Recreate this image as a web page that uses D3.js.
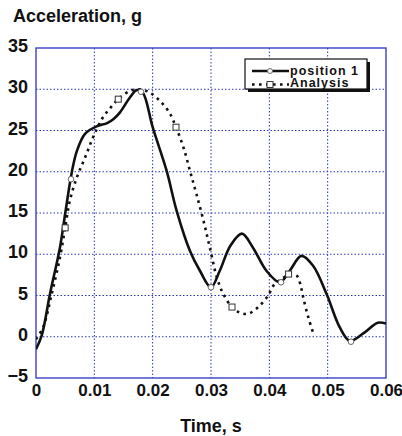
<!DOCTYPE html>
<html><head><meta charset="utf-8">
<script src="https://cdn.jsdelivr.net/npm/d3@7"></script>
<style>body{margin:0;background:#fff}svg{display:block}text{font-family:"Liberation Sans",Arial,sans-serif;font-weight:bold;fill:#111}</style>
</head><body>
<script>
const xTicks = [0, 0.01, 0.02, 0.03, 0.04, 0.05, 0.06];
const xTickLabels = ["0", "0.01", "0.02", "0.03", "0.04", "0.05", "0.06"];
const yTicks = [-5, 0, 5, 10, 15, 20, 25, 30, 35];
const seriesNames = ["position 1", "Analysis"];

const timeP1 = [0, 0.001, 0.0024, 0.0041, 0.005, 0.0061, 0.007, 0.0084, 0.0104, 0.0122, 0.0133, 0.0144, 0.0161, 0.0173, 0.0183, 0.020, 0.0224, 0.0241, 0.0264, 0.0281, 0.030, 0.0315, 0.0333, 0.0353, 0.0372, 0.0395, 0.0418, 0.0435, 0.0455, 0.0475, 0.0498, 0.0521, 0.0538, 0.0561, 0.0586, 0.06];
const accP1 = [-1.5, 0.2, 5.2, 10.8, 14.9, 19.8, 22.5, 24.6, 25.5, 25.9, 26.4, 27.2, 29.0, 29.9, 29.6, 25.4, 20.1, 15.3, 10.4, 8.0, 6.0, 8.0, 11.0, 12.5, 10.8, 8.0, 6.6, 8.0, 9.8, 8.6, 5.2, 1.1, -0.5, 0.4, 1.7, 1.6];

const timeAn = [0, 0.0012, 0.0027, 0.0041, 0.005, 0.0058, 0.007, 0.0084, 0.0098, 0.0113, 0.0127, 0.0141, 0.0161, 0.0178, 0.0195, 0.0215, 0.023, 0.024, 0.0253, 0.0264, 0.0275, 0.0287, 0.0298, 0.031, 0.0321, 0.0336, 0.035, 0.0364, 0.0381, 0.0398, 0.0407, 0.0421, 0.0433, 0.0447, 0.0453, 0.0458, 0.0467, 0.0476];
const accAn = [-0.3, 1.1, 5.2, 9.6, 13.2, 16.5, 19.3, 21.7, 24.2, 26.4, 27.7, 28.8, 29.8, 30.0, 29.6, 28.4, 27.0, 25.4, 22.9, 20.1, 17.3, 14.1, 10.8, 7.2, 5.2, 3.6, 2.9, 2.8, 3.6, 5.0, 6.2, 7.0, 7.5, 7.4, 6.4, 4.8, 2.3, 0.3];

const markTimeP1 = [0.006, 0.018, 0.030, 0.042, 0.054];
const markAccP1 = [19.1, 29.7, 6.0, 6.6, -0.6];
const markTimeAn = [0.005, 0.0141, 0.024, 0.0336, 0.0433];
const markAccAn = [13.2, 28.8, 25.4, 3.6, 7.6];

const W = 402, H = 436;
const m = {left: 36, right: 16, top: 48, bottom: 58};
const svg = d3.select("body").append("svg").attr("width", W).attr("height", H);
const x = d3.scaleLinear().domain([0, 0.06]).range([m.left, W - m.right]);
const y = d3.scaleLinear().domain([-5, 35]).range([H - m.bottom, m.top]);
const blue = "#2a33c0";

// grid
const g = svg.append("g");
g.selectAll("line.vx").data(xTicks.slice(1, -1)).join("line")
  .attr("x1", d => x(d)).attr("x2", d => x(d)).attr("y1", y(35)).attr("y2", y(-5))
  .attr("stroke", blue).attr("stroke-width", 1).attr("stroke-dasharray", "1.5,2");
g.selectAll("line.hy").data(yTicks.slice(1, -1)).join("line")
  .attr("x1", x(0)).attr("x2", x(0.06)).attr("y1", d => y(d)).attr("y2", d => y(d))
  .attr("stroke", blue).attr("stroke-width", 1).attr("stroke-dasharray", "1.5,2");
svg.append("rect").attr("x", x(0)).attr("y", y(35)).attr("width", x(0.06) - x(0)).attr("height", y(-5) - y(35))
  .attr("fill", "none").attr("stroke", blue).attr("stroke-width", 1.3);

// axes
const xAxis = d3.axisBottom(x).tickValues(xTicks).tickFormat((d, i) => xTickLabels[i]).tickSize(0).tickPadding(6);
const ax = svg.append("g").attr("transform", `translate(0,${y(-5)})`).call(xAxis);
ax.select(".domain").remove();
ax.selectAll("text").style("font-size", "17px").attr("fill", "#111");
const yAxis = d3.axisLeft(y).tickValues(yTicks).tickSize(0).tickPadding(8);
const ay = svg.append("g").attr("transform", `translate(${x(0)},0)`).call(yAxis);
ay.select(".domain").remove();
ay.selectAll("text").style("font-size", "18px").attr("fill", "#111").attr("dy", "0.2em");

svg.append("text").attr("x", 13).attr("y", 22).style("font-size", "18px").text("Acceleration, g");
svg.append("text").attr("x", 211).attr("y", 432).attr("text-anchor", "middle").style("font-size", "18px").text("Time, s");

// lines
svg.append("clipPath").attr("id", "c").append("rect")
  .attr("x", x(0)).attr("y", y(35)).attr("width", x(0.06) - x(0)).attr("height", y(-5) - y(35));
const line = d3.line().x(d => x(d[0])).y(d => y(d[1])).curve(d3.curveCatmullRom.alpha(0.5));
const pl = svg.append("g").attr("clip-path", "url(#c)");
pl.append("path").datum(d3.zip(timeAn, accAn)).attr("d", line)
  .attr("fill", "none").attr("stroke", "#111").attr("stroke-width", 2.6).attr("stroke-dasharray", "2.6,4.4");
pl.append("path").datum(d3.zip(timeP1, accP1)).attr("d", line)
  .attr("fill", "none").attr("stroke", "#111").attr("stroke-width", 2.6);
pl.selectAll("circle.m").data(d3.zip(markTimeP1, markAccP1)).join("circle")
  .attr("cx", d => x(d[0])).attr("cy", d => y(d[1])).attr("r", 2.8)
  .attr("fill", "#fff").attr("stroke", "#666").attr("stroke-width", 1);
pl.selectAll("rect.m").data(d3.zip(markTimeAn, markAccAn)).join("rect")
  .attr("x", d => x(d[0]) - 3).attr("y", d => y(d[1]) - 3).attr("width", 6).attr("height", 6)
  .attr("fill", "#fff").attr("stroke", "#333").attr("stroke-width", 1);

// legend
const lg = svg.append("g");
lg.append("rect").attr("x", 248).attr("y", 62).attr("width", 122).attr("height", 30).attr("fill", "#111");
lg.append("rect").attr("x", 245).attr("y", 59).attr("width", 122).attr("height", 30).attr("fill", "#fff").attr("stroke", "#111").attr("stroke-width", 1.2);
lg.append("line").attr("x1", 252).attr("x2", 289).attr("y1", 71).attr("y2", 71).attr("stroke", "#111").attr("stroke-width", 2.6);
lg.append("circle").attr("cx", 270).attr("cy", 71).attr("r", 2.5).attr("fill", "#fff").attr("stroke", "#666");
lg.append("line").attr("x1", 252).attr("x2", 289).attr("y1", 84.5).attr("y2", 84.5).attr("stroke", "#111").attr("stroke-width", 2.6).attr("stroke-dasharray", "2.6,4.4");
lg.append("rect").attr("x", 267).attr("y", 81.5).attr("width", 6).attr("height", 6).attr("fill", "#fff").attr("stroke", "#333");
lg.selectAll("text").data(seriesNames).join("text")
  .attr("x", 290).attr("y", (d, i) => 74.5 + i * 12.8).style("font-size", "12.5px").style("letter-spacing", "1px").text(d => d);
</script>
</body></html>
